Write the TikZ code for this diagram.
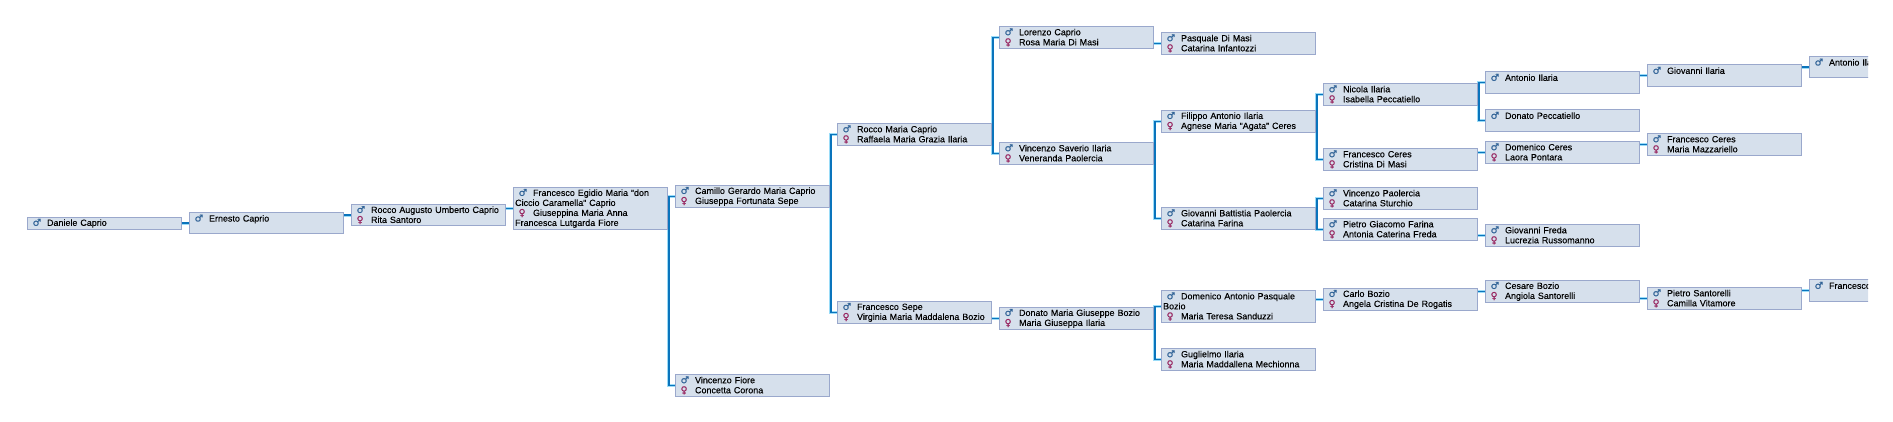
\documentclass[tikz,border=0pt]{standalone}
\usepackage{fontspec}
\setmainfont{Liberation Sans}[WordSpace=1.35,RawFeature={embolden=0.12}]
\newfontfamily\symf{DejaVu Sans}[RawFeature={embolden=0.6}]
\usetikzlibrary{backgrounds}
\definecolor{boxfill}{HTML}{D6E0EC}
\definecolor{boxline}{HTML}{9AA8CC}
\definecolor{linkdark}{HTML}{0A74BC}
\definecolor{linkglow}{HTML}{9ADCF8}
\definecolor{malec}{HTML}{2F6296}
\definecolor{femc}{HTML}{97245F}
\newcommand{\Gic}[2]{\makebox[17.9pt][l]{\hspace{3.4pt}\textcolor{#1}{\fontsize{9.6}{10}\symf #2}}}
\newcommand{\Mrow}[1]{\mbox{\Gic{malec}{♂}#1}}
\newcommand{\Frow}[1]{\mbox{\Gic{femc}{♀}#1}}
\tikzset{x=1pt,y=-1pt,
 pbox/.style={anchor=north west,draw=boxline,line width=0.9pt,fill=boxfill,inner xsep=1.4pt,inner ysep=0pt,
   minimum width=153.3pt,minimum height=21.3pt,text width=150.5pt,align=left,
   font=\fontsize{8.95}{10}\selectfont},
 nbox/.style={pbox,minimum width=153.3pt},
 slim/.style={minimum height=11.7pt},
 fourrow/.style={minimum height=41.3pt},
 threerow/.style={minimum height=31.4pt},
 link/.style={line width=1.5pt,draw=linkdark,preaction={draw=linkglow,line width=3pt}},
}
% single connector from parent a to child b
\newcommand{\Lone}[2]{\draw[link] (#1.east |- #2.west) -- (#2.west);}
% fork from parent a to children b and c
\newcommand{\Lfork}[3]{\draw[link] (#2.west) -- ([xshift=1.3pt]#1.east |- #2.west) -- ([xshift=1.3pt]#1.east |- #3.west) -- (#3.west);}
\begin{document}
\begin{tikzpicture}
\useasboundingbox (0,0) rectangle (1893,422);
\node[nbox,slim] (a1) at (27.3,217) {\Mrow{Daniele Caprio}};
\node[nbox] (a2) at (189.3,212) {\Mrow{Ernesto Caprio}\\\mbox{}};
\node[nbox] (a3) at (351.3,204) {\Mrow{Rocco Augusto Umberto Caprio}\\\Frow{Rita Santoro}};
\node[nbox,fourrow] (a4) at (513.3,187.3) {\Mrow{Francesco Egidio Maria "don}\\Ciccio Caramella" Caprio\\\Frow{Giuseppina Maria Anna}\\Francesca Lutgarda Fiore};
\node[nbox] (b1) at (675.3,185.3) {\Mrow{Camillo Gerardo Maria Caprio}\\\Frow{Giuseppa Fortunata Sepe}};
\node[nbox] (b2) at (675.3,374.3) {\Mrow{Vincenzo Fiore}\\\Frow{Concetta Corona}};
\node[nbox] (c1) at (837.3,123.3) {\Mrow{Rocco Maria Caprio}\\\Frow{Raffaela Maria Grazia Ilaria}};
\node[nbox] (c2) at (837.3,301.3) {\Mrow{Francesco Sepe}\\\Frow{Virginia Maria Maddalena Bozio}};
\node[nbox] (d1) at (999.3,26.3) {\Mrow{Lorenzo Caprio}\\\Frow{Rosa Maria Di Masi}};
\node[nbox] (d2) at (999.3,142.3) {\Mrow{Vincenzo Saverio Ilaria}\\\Frow{Veneranda Paolercia}};
\node[nbox] (d3) at (999.3,307.3) {\Mrow{Donato Maria Giuseppe Bozio}\\\Frow{Maria Giuseppa Ilaria}};
\node[nbox] (e1) at (1161.3,32.3) {\Mrow{Pasquale Di Masi}\\\Frow{Catarina Infantozzi}};
\node[nbox] (e2) at (1161.3,110.3) {\Mrow{Filippo Antonio Ilaria}\\\Frow{Agnese Maria "Agata" Ceres}};
\node[nbox] (e3) at (1161.3,207.3) {\Mrow{Giovanni Battistia Paolercia}\\\Frow{Catarina Farina}};
\node[nbox,threerow] (e4) at (1161.3,290.3) {\Mrow{Domenico Antonio Pasquale}\\Bozio\\\Frow{Maria Teresa Sanduzzi}};
\node[nbox] (e5) at (1161.3,348.3) {\Mrow{Guglielmo Ilaria}\\\Frow{Maria Maddallena Mechionna}};
\node[nbox] (f1) at (1323.3,83.3) {\Mrow{Nicola Ilaria}\\\Frow{Isabella Peccatiello}};
\node[nbox] (f2) at (1323.3,148.3) {\Mrow{Francesco Ceres}\\\Frow{Cristina Di Masi}};
\node[nbox] (f3) at (1323.3,187.3) {\Mrow{Vincenzo Paolercia}\\\Frow{Catarina Sturchio}};
\node[nbox] (f4) at (1323.3,218.3) {\Mrow{Pietro Giacomo Farina}\\\Frow{Antonia Caterina Freda}};
\node[nbox] (f5) at (1323.3,288.3) {\Mrow{Carlo Bozio}\\\Frow{Angela Cristina De Rogatis}};
\node[nbox] (g1) at (1485.3,71.3) {\Mrow{Antonio Ilaria}\\\mbox{}};
\node[nbox] (g2) at (1485.3,109.3) {\Mrow{Donato Peccatiello}\\\mbox{}};
\node[nbox] (g3) at (1485.3,141.3) {\Mrow{Domenico Ceres}\\\Frow{Laora Pontara}};
\node[nbox] (g4) at (1485.3,224.3) {\Mrow{Giovanni Freda}\\\Frow{Lucrezia Russomanno}};
\node[nbox] (g5) at (1485.3,280.3) {\Mrow{Cesare Bozio}\\\Frow{Angiola Santorelli}};
\node[nbox] (h1) at (1647.3,64.3) {\Mrow{Giovanni Ilaria}\\\mbox{}};
\node[nbox] (h2) at (1647.3,133.3) {\Mrow{Francesco Ceres}\\\Frow{Maria Mazzariello}};
\node[nbox] (h3) at (1647.3,287.3) {\Mrow{Pietro Santorelli}\\\Frow{Camilla Vitamore}};
\begin{scope}
\clip (1800,0) rectangle (1868,422);
\node[nbox] (i1) at (1809.3,56) {\Mrow{Antonio Ilaria}\\\mbox{}};
\node[nbox] (i2) at (1809.3,279.3) {\Mrow{Francesco}\\\mbox{}};
\end{scope}
\begin{pgfonlayer}{background}
\Lone{a1}{a2}\Lone{a2}{a3}\Lone{a3}{a4}
\Lfork{a4}{b1}{b2}
\Lfork{b1}{c1}{c2}
\Lfork{c1}{d1}{d2}
\Lone{c2}{d3}
\Lone{d1}{e1}
\Lfork{d2}{e2}{e3}
\Lfork{d3}{e4}{e5}
\Lfork{e2}{f1}{f2}
\Lfork{e3}{f3}{f4}
\Lone{e4}{f5}
\Lfork{f1}{g1}{g2}
\Lone{f2}{g3}
\Lone{f4}{g4}
\Lone{f5}{g5}
\Lone{g1}{h1}
\Lone{g3}{h2}
\Lone{g5}{h3}
\Lone{h1}{i1}
\Lone{h3}{i2}
\end{pgfonlayer}
\end{tikzpicture}
\end{document}
